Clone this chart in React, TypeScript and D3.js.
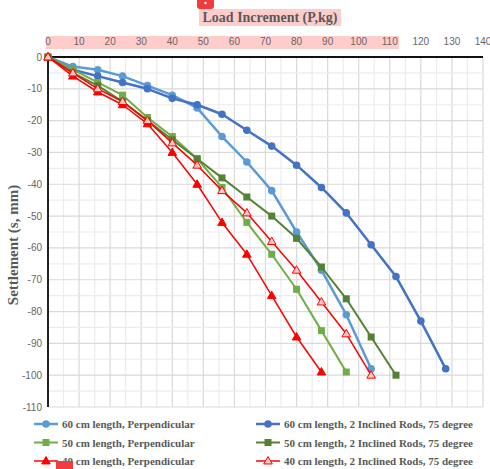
import React, { useEffect, useRef } from "react";
import * as d3 from "d3";

// load (kg) steps
const loads60p = [0, 8, 16, 24, 32, 40, 48, 56, 64, 72, 80, 88, 96, 104];
const settle60p = [0, -3, -4, -6, -9, -12, -16, -25, -33, -42, -55, -67, -81, -98];
const loads60i = [0, 8, 16, 24, 32, 40, 48, 56, 64, 72, 80, 88, 96, 104, 112, 120, 128];
const settle60i = [0, -4, -6, -8, -10, -13, -15, -18, -23, -28, -34, -41, -49, -59, -69, -83, -98];
const loads50p = [0, 8, 16, 24, 32, 40, 48, 56, 64, 72, 80, 88, 96];
const settle50p = [0, -4, -8, -12, -19, -25, -32, -41, -52, -62, -73, -86, -99];
const loads50i = [0, 8, 16, 24, 32, 40, 48, 56, 64, 72, 80, 88, 96, 104, 112];
const settle50i = [0, -5, -9, -14, -20, -26, -32, -38, -44, -50, -57, -66, -76, -88, -100];
const loads40p = [0, 8, 16, 24, 32, 40, 48, 56, 64, 72, 80, 88];
const settle40p = [0, -6, -11, -15, -21, -30, -40, -52, -62, -75, -88, -99];
const loads40i = [0, 8, 16, 24, 32, 40, 48, 56, 64, 72, 80, 88, 96, 104];
const settle40i = [0, -5, -10, -14, -20, -27, -34, -42, -49, -58, -67, -77, -87, -100];

const seriesNames = [
  "60 cm length, Perpendicular",
  "60 cm length, 2 Inclined Rods, 75 degree",
  "50 cm length, Perpendicular",
  "50 cm length, 2 Inclined Rods, 75 degree",
  "40 cm length, Perpendicular",
  "40 cm length, 2 Inclined Rods, 75 degree",
];

const xTicks = d3.range(0, 141, 10);
const yTicks = d3.range(0, -111, -10);

const App = () => {
  const ref = useRef<SVGSVGElement>(null);

  useEffect(() => {
    const svg = d3.select(ref.current);
    svg.selectAll("*").remove();

    const left = 48, right = 483, top = 57, bottom = 407;
    const x = d3.scaleLinear().domain([0, 140]).range([left, right]);
    const y = d3.scaleLinear().domain([0, -110]).range([top, bottom]);

    const series = [
      { name: seriesNames[0], xs: loads60p, ys: settle60p, color: "#5B9BD5", shape: "circle", w: 2.5, fill: "#5B9BD5" },
      { name: seriesNames[1], xs: loads60i, ys: settle60i, color: "#4472C4", shape: "circle", w: 2.5, fill: "#4472C4" },
      { name: seriesNames[2], xs: loads50p, ys: settle50p, color: "#70AD47", shape: "square", w: 2, fill: "#70AD47" },
      { name: seriesNames[3], xs: loads50i, ys: settle50i, color: "#548235", shape: "square", w: 2, fill: "#548235" },
      { name: seriesNames[4], xs: loads40p, ys: settle40p, color: "#FF0000", shape: "triangle", w: 1.5, fill: "#FF0000" },
      { name: seriesNames[5], xs: loads40i, ys: settle40i, color: "#FF0000", shape: "triangle", w: 1.5, fill: "#FFC8C8" },
    ];

    // grid
    const grid = svg.append("g");
    d3.range(5, 141, 5).forEach((v) => {
      grid.append("line")
        .attr("x1", x(v)).attr("x2", x(v)).attr("y1", top).attr("y2", bottom)
        .attr("stroke", v % 10 === 0 ? "#d9d9d9" : "#ececec").attr("stroke-width", 1.2);
    });
    d3.range(-5, -111, -5).forEach((v) => {
      grid.append("line")
        .attr("x1", left).attr("x2", right).attr("y1", y(v)).attr("y2", y(v))
        .attr("stroke", v % 10 === 0 ? "#d9d9d9" : "#ececec").attr("stroke-width", 1.2);
    });

    // highlight boxes
    svg.append("rect").attr("x", 199).attr("y", 9).attr("width", 142).attr("height", 17).attr("fill", "#ffcccc");
    svg.append("rect").attr("x", 46).attr("y", 36).attr("width", 353).attr("height", 13).attr("fill", "#ffcccc");
    svg.append("rect").attr("x", 197).attr("y", -4).attr("width", 17).attr("height", 13).attr("rx", 3).attr("fill", "#f03c3c");
    svg.append("circle").attr("cx", 205.5).attr("cy", 3).attr("r", 1.2).attr("fill", "#fff");

    // axes lines
    svg.append("line").attr("x1", left).attr("x2", right).attr("y1", top).attr("y2", top)
      .attr("stroke", "#111").attr("stroke-width", 2);
    svg.append("line").attr("x1", left).attr("x2", left).attr("y1", top).attr("y2", bottom)
      .attr("stroke", "#222").attr("stroke-width", 2);

    // ticks
    svg.append("g").selectAll("text").data(xTicks).enter().append("text")
      .attr("x", (d) => x(d)).attr("y", 45).attr("text-anchor", "middle")
      .attr("font-family", "Liberation Sans, Arial, sans-serif").attr("font-size", 10)
      .attr("fill", "#666").text((d) => d);
    svg.append("g").selectAll("text").data(yTicks).enter().append("text")
      .attr("x", 42).attr("y", (d) => y(d) + 3.5).attr("text-anchor", "end")
      .attr("font-family", "Liberation Sans, Arial, sans-serif").attr("font-size", 10)
      .attr("fill", "#666").text((d) => d);

    // titles
    svg.append("text").attr("x", 270).attr("y", 22).attr("text-anchor", "middle")
      .attr("font-family", "Liberation Serif, Times New Roman, serif").attr("font-weight", "bold")
      .attr("font-size", 14).attr("fill", "#595959").text("Load Increment (P,kg)");
    svg.append("text").attr("transform", "translate(18,245) rotate(-90)")
      .attr("text-anchor", "middle")
      .attr("font-family", "Liberation Serif, Times New Roman, serif").attr("font-weight", "bold")
      .attr("font-size", 15).attr("fill", "#595959").text("Settlement (s, mm)");

    const drawMarker = (g: any, s: any, cx: number, cy: number) => {
      if (s.shape === "circle") {
        g.append("circle").attr("cx", cx).attr("cy", cy).attr("r", 3.8).attr("fill", s.fill);
      } else if (s.shape === "square") {
        g.append("rect").attr("x", cx - 3.5).attr("y", cy - 3.5).attr("width", 7).attr("height", 7).attr("fill", s.fill);
      } else {
        const sym = d3.symbol().type(d3.symbolTriangle).size(32)();
        g.append("path").attr("d", sym).attr("transform", `translate(${cx},${cy + 0.5})`)
          .attr("fill", s.fill).attr("stroke", s.color).attr("stroke-width", 1);
      }
    };

    const line = d3.line<[number, number]>().x((d) => x(d[0])).y((d) => y(d[1]));
    const plot = svg.append("g");
    series.forEach((s) => {
      const pts = s.xs.map((v, i) => [v, s.ys[i]] as [number, number]);
      plot.append("path").attr("d", line(pts)).attr("fill", "none")
        .attr("stroke", s.color).attr("stroke-width", s.w).attr("stroke-linejoin", "round");
      pts.forEach((p) => drawMarker(plot, s, x(p[0]), y(p[1])));
    });

    // legend
    const leg = svg.append("g");
    series.forEach((s, i) => {
      const col = i % 2;
      const row = Math.floor(i / 2);
      const lx = col === 0 ? 34 : 256;
      const ly = 424 + row * 18.5;
      leg.append("line").attr("x1", lx).attr("x2", lx + 24).attr("y1", ly).attr("y2", ly)
        .attr("stroke", s.color).attr("stroke-width", s.w);
      drawMarker(leg, s, lx + 12, ly);
      leg.append("text").attr("x", lx + 28).attr("y", ly + 4)
        .attr("font-family", "Liberation Serif, Times New Roman, serif").attr("font-weight", "bold")
        .attr("font-size", 11).attr("fill", "#595959").text(s.name);
    });
    svg.append("rect").attr("x", 56).attr("y", 461).attr("width", 17).attr("height", 10).attr("fill", "#f03c3c");
  }, []);

  return (
    <div style={{ position: "absolute", left: 0, top: 0 }}>
      <svg ref={ref} width={490} height={469} style={{ display: "block", background: "#fff" }} />
    </div>
  );
};

export default App;
